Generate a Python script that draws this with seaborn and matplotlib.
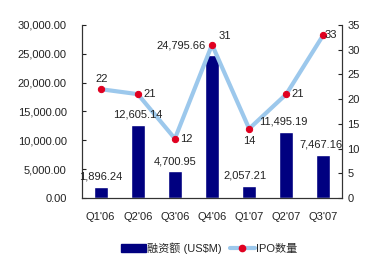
import matplotlib
matplotlib.use("Agg")
import matplotlib.pyplot as plt
import seaborn as sns
import pandas as pd
from matplotlib.lines import Line2D
from matplotlib.patches import Patch

quarters = ["Q1'06", "Q2'06", "Q3'06", "Q4'06", "Q1'07", "Q2'07", "Q3'07"]
funding = [1896.24, 12605.14, 4700.95, 24795.66, 2057.21, 11495.19, 7467.16]
ipo_count = [22, 21, 12, 31, 14, 21, 33]
bar_name = "融资额 (US$M)"
line_name = "IPO数量"

sns.set_style("white")
plt.rcParams['font.family'] = ['Liberation Sans', 'Noto Sans CJK SC', 'DejaVu Sans']

df = pd.DataFrame({"q": quarters, "f": funding, "n": ipo_count})

fig = plt.figure(figsize=(3.8, 2.65), dpi=100)
ax = fig.add_axes([0.216, 0.253, 0.684, 0.653])
sns.barplot(data=df, x="q", y="f", color="#000080", width=0.38, ax=ax, saturation=1)
ax.set_ylim(0, 30000)
ax.set_yticks([0, 5000, 10000, 15000, 20000, 25000, 30000])
ax.set_yticklabels([f"{v:,.2f}" for v in [0, 5000, 10000, 15000, 20000, 25000, 30000]])
ax.set_xlim(-0.5, 6.5)
ax.set_xlabel("")
ax.set_ylabel("")

ax2 = ax.twinx()
sns.lineplot(data=df, x="q", y="n", sort=False, ax=ax2, color="#9cc8ec", linewidth=3,
             marker="o", markersize=4.5, markerfacecolor="#e00020", markeredgecolor="#e00020")
ax2.set_ylim(0, 35)
ax2.set_yticks(range(0, 36, 5))
ax2.set_ylabel("")
ax2.set_xlim(-0.5, 6.5)

for a in (ax, ax2):
    a.spines['top'].set_visible(False)
    for s in ('left', 'right', 'bottom'):
        a.spines[s].set_color('#333333')
        a.spines[s].set_linewidth(0.8)
    a.tick_params(direction='in', length=3, labelsize=8, colors='#222222', width=0.8)
ax.set_xticks(range(len(quarters)))
ax.set_xticklabels(quarters)
ax.tick_params(axis='x', length=0, pad=10)
ax2.tick_params(axis='y', pad=4)
ax.tick_params(axis='y', pad=11)
# category boundary ticks
ax.set_xticks([i + 0.5 for i in range(len(quarters) - 1)], minor=True)
ax.tick_params(axis='x', which='minor', direction='in', length=3, width=0.8)

# bar value labels, drawn on the top axes so they sit above the line
bar_offsets = [(0, 4), (0, 4), (0, 3), (-22, 3), (-3, 4), (-2, 4), (-2, 4)]
for i, (v, off) in enumerate(zip(funding, bar_offsets)):
    ax2.annotate(f"{v:,.2f}", (i, v), xycoords=ax.transData, xytext=off,
                 textcoords="offset points", ha="center", va="bottom", fontsize=8,
                 color="#222222", zorder=10)

line_offsets = [(1, 4, "center", "bottom"), (4, 0, "left", "center"), (4, 0, "left", "center"),
                (5, 3, "left", "bottom"), (0, -5, "center", "top"), (4, 0, "left", "center"),
                (1, 0, "left", "center")]
for i, (v, (dx, dy, ha, va)) in enumerate(zip(ipo_count, line_offsets)):
    ax2.annotate(str(v), (i, v), xytext=(dx, dy), textcoords="offset points",
                 ha=ha, va=va, fontsize=8, color="#222222", zorder=10)

handles = [Patch(facecolor="#000080", edgecolor="#000080"),
           Line2D([0], [0], color="#9cc8ec", linewidth=3, marker="o", markersize=4.5,
                  markerfacecolor="#e00020", markeredgecolor="#e00020")]
fig.legend(handles, [bar_name, line_name], loc="center", bbox_to_anchor=(0.55, 0.065),
           ncol=2, frameon=False, fontsize=8, handlelength=2.2, handletextpad=0.1,
           columnspacing=0.8)

fig.savefig("out.png", dpi=100)
